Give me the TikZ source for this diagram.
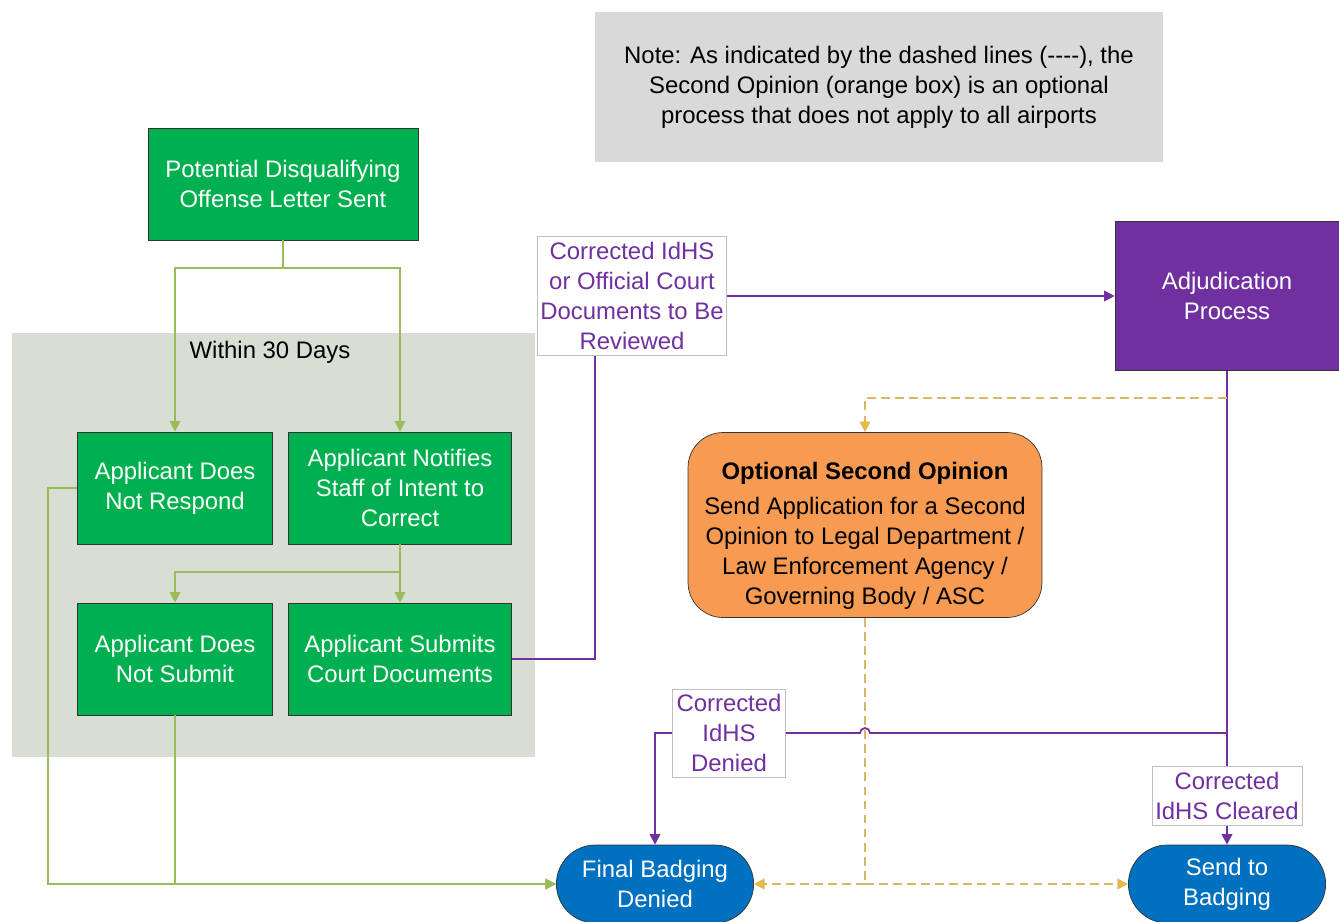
\documentclass[tikz,border=0pt]{standalone}
\usepackage{fontspec}
\setmainfont{Liberation Sans}
\usetikzlibrary{shapes.misc,arrows.meta}

\definecolor{boxgreen}{HTML}{00B050}
\definecolor{linegreen}{HTML}{9BBB59}
\definecolor{grpgray}{HTML}{D9DED5}
\definecolor{notegray}{HTML}{D9D9D9}
\definecolor{adjpurple}{HTML}{7030A0}
\definecolor{optorange}{HTML}{F79A52}
\definecolor{endblue}{HTML}{0070C0}
\definecolor{dashgold}{HTML}{D9B767}
\definecolor{tipgold}{HTML}{FFC000}

\tikzset{
	txt/.style={font=\fontsize{13.6}{17}\selectfont, align=center},
	gbox/.style={txt, draw=black!80, fill=boxgreen, text=white, minimum height=2.24cm, inner sep=1pt},
	lbl/.style={txt, draw=black!25, fill=white, text=adjpurple, inner sep=1pt},
	endpt/.style={txt, rounded rectangle, draw=black!80, fill=endblue, text=white, minimum width=4.18cm, minimum height=1.56cm},
	gline/.style={draw=linegreen, line width=1pt},
	pline/.style={draw=adjpurple, line width=1pt},
	dline/.style={draw=dashgold, line width=1pt, dash pattern=on 5pt off 3pt},
	tip/.style={-{Triangle[length=6pt,width=6pt]}}
}

\begin{document}
\begin{tikzpicture}[x=0.02cm, y=-0.02cm]
			\useasboundingbox (0,0) rectangle (1339,921);
			
			% group background
			\fill[grpgray] (12,333) rectangle (535,757);
			\node[txt] (within) at (270,352) {Within 30 Days};
			
			\node[txt, fill=notegray, minimum width=11.36cm, minimum height=3cm] (note) at (879,87) {Note: As indicated by the dashed lines (-{}-{}-{}-), the\\Second Opinion (orange box) is an optional\\process that does not apply to all airports};
			
			\node[gbox, minimum width=5.4cm] (letter) at (283,184) {Potential Disqualifying\\Offense Letter Sent};
			\node[gbox, minimum width=3.9cm] (noresp) at (175,488) {Applicant Does\\Not Respond};
			\node[gbox, minimum width=4.46cm] (notify) at (400,488) {Applicant Notifies\\Staff of Intent to\\Correct};
			\node[gbox, minimum width=3.9cm] (nosub) at (175,659) {Applicant Does\\Not Submit};
			\node[gbox, minimum width=4.46cm] (submit) at (400,659) {Applicant Submits\\Court Documents};
			
			\node[txt, draw=black!80, fill=adjpurple, text=white, minimum width=4.48cm, minimum height=2.98cm] (adj) at (1227,296) {Adjudication\\Process};
			\node[txt, draw=black!80, fill=optorange, rounded corners=0.7cm, minimum width=7.08cm, minimum height=3.7cm] (opt) at (865,525) {\rule{0pt}{22pt}\textbf{Optional Second Opinion}\\[3pt]Send Application for a Second\\Opinion to Legal Department /\\Law Enforcement Agency /\\Governing Body / ASC};
			
			\node[endpt] (deny) at (655,884) {Final Badging\\Denied};
			\node[endpt] (send) at (1227,884) {Send to\\Badging};
			
			\node[lbl, minimum width=3.78cm, minimum height=2.38cm] (reviewlbl) at (632,296) {Corrected IdHS\\or Official Court\\Documents to Be\\Reviewed};
			\node[lbl, minimum width=2.26cm, minimum height=1.76cm] (deniedlbl) at (729,733) {Corrected\\IdHS\\Denied};
			\node[lbl, minimum width=3cm, minimum height=1.18cm] (clearedlbl) at (1227,796) {Corrected\\IdHS Cleared};
			
			\coordinate (split) at (1227,733);
			\coordinate (optfork) at (1227,398);
			\coordinate (dfork) at (865,884);
			
			% green paths
			\draw[gline, tip] (letter.south) -- ++(0,28) -| (noresp.north);
			\draw[gline, tip] (letter.south) -- ++(0,28) -| (notify.north);
			\draw[gline, tip] (notify.south) -- ++(0,28) -| (nosub.north);
			\draw[gline, tip] (notify.south) -- (submit.north);
			\draw[gline, tip] (noresp.west) -- ++(-29,0) |- (deny.west);
			\draw[gline, tip] (nosub.south) |- (deny.west);
			
			% purple paths
			\draw[pline] (submit.east) -| ([xshift=-0.74cm]reviewlbl.south);
			\draw[pline, tip] (reviewlbl.east) -- (adj.west);
			\draw[pline] (adj.south) -- (split);
			\draw[pline] (split) -- (870,733) arc[start angle=0, end angle=180, radius=0.1cm] -- (deniedlbl.east);
			\draw[pline, tip] (deniedlbl.west) -| (deny.north);
			\draw[pline] (split) -- (clearedlbl.north);
			\draw[pline, tip] (clearedlbl.south) -- (send.north);
			
			% optional dashed paths
			\draw[dline, -{Triangle[length=6pt,width=6pt,fill=tipgold]}] (optfork) -| (opt.north);
			\draw[dline] (opt.south) -- (dfork);
			\draw[dline, -{Triangle[length=6pt,width=6pt,fill=tipgold]}] (dfork) -- (deny.east);
			\draw[dline, -{Triangle[length=6pt,width=6pt,fill=tipgold]}] (dfork) -- (send.west);
		\end{tikzpicture}
\end{document}
